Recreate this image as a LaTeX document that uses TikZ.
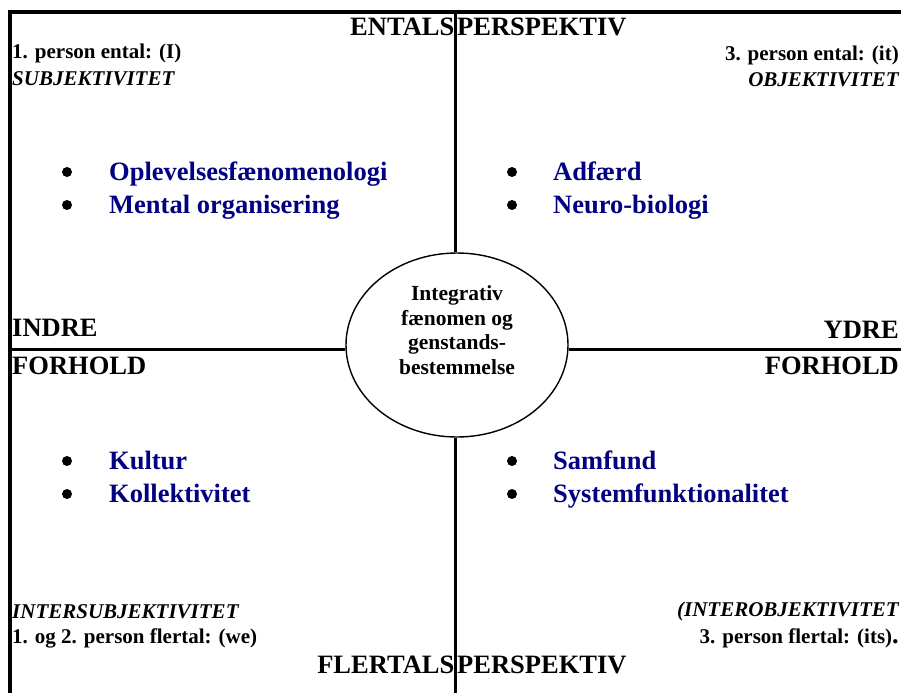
\documentclass[tikz,border=0pt]{standalone}
\usepackage{fontspec}
\setmainfont{Liberation Serif}
\usetikzlibrary{shapes.geometric}
\definecolor{navyitem}{RGB}{0,0,128}
\begin{document}
\begin{tikzpicture}[x=1pt,y=-1pt,
  small/.style={inner sep=0pt, font=\fontsize{21}{24}\selectfont\bfseries},
  smallit/.style={inner sep=0pt, font=\fontsize{21}{24}\selectfont\bfseries\itshape},
  big/.style={inner sep=0pt, font=\fontsize{26.5}{30}\selectfont\bfseries},
  item/.style={inner sep=0pt, anchor=base west, text=navyitem, font=\fontsize{26.5}{30}\selectfont\bfseries},
  dot/.style={circle, fill=black, draw=none, inner sep=0pt, minimum size=10pt},
  thickline/.style={line width=4pt},
  midline/.style={line width=3pt},
  vline/.style={line width=2.6pt},
  core/.style={ellipse, draw, line width=1.4pt, minimum width=222pt, minimum height=184pt, inner sep=0pt}]
\useasboundingbox (0,0) rectangle (901,693);

% frame
\coordinate (TL) at (8,12);
\coordinate (TR) at (901,12);
\coordinate (LT) at (10,10);
\coordinate (LB) at (10,693);
\draw[thickline] (TL) -- (TR);
\draw[thickline] (LT) -- (LB);

% central ellipse
\node[core] (ell) at (457,345) {};
\node[inner sep=0pt, anchor=north, align=center, font=\fontsize{21.5}{24.5}\selectfont\bfseries] (coretext) at (457,285.8)
  {Integrativ\\fænomen og\\genstands-\\bestemmelse};

% axes
\coordinate (VT) at (455.5,12);
\coordinate (VB) at (455.5,693);
\coordinate (HL) at (12,349.5);
\coordinate (HR) at (901,349.5);
\draw[vline] (VT) -- (VT |- ell.north);
\draw[vline] (VB |- ell.south) -- (VB);
\draw[midline] (HL) -- (HL -| ell.west);
\draw[midline] (HR -| ell.east) -- (HR);

% top / bottom titles
\node[big, anchor=base east] (ent1) at (454.5,36) {ENTALS};
\node[big, anchor=base west] (ent2) at (457,36) {PERSPEKTIV};
\node[big, anchor=base east] (fl1) at (454.5,673) {FLERTALS};
\node[big, anchor=base west] (fl2) at (457,673) {PERSPEKTIV};

% corner labels
\node[small, anchor=base west] (c1a) at (12,59) {1. person ental: (I)};
\node[smallit, anchor=base west] (c1b) at (12,85) {SUBJEKTIVITET};
\node[small, anchor=base east] (c2a) at (899,60) {3. person ental: (it)};
\node[smallit, anchor=base east] (c2b) at (899,86) {OBJEKTIVITET};
\node[smallit, anchor=base west] (c3a) at (12,618) {INTERSUBJEKTIVITET};
\node[small, anchor=base west] (c3b) at (12,643) {1. og 2. person flertal: (we)};
\node[smallit, anchor=base east] (c4a) at (899,616) {(INTEROBJEKTIVITET};
\node[small, anchor=base east] (c4b) at (899,643) {3. person flertal: (its){\fontsize{26.5}{30}\selectfont .}};

% side labels
\node[big, anchor=base west] (in1) at (12,336) {INDRE};
\node[big, anchor=base west] (in2) at (12,374) {FORHOLD};
\node[big, anchor=base east] (yd1) at (899,338) {YDRE};
\node[big, anchor=base east] (yd2) at (899,374) {FORHOLD};

% quadrant items
\node[dot] (b1) at (67,172) {};
\node[item] (t1) at (109,180) {Oplevelsesfænomenologi};
\node[dot] (b2) at (67,205) {};
\node[item] (t2) at (109,213) {Mental organisering};

\node[dot] (b3) at (512,172) {};
\node[item] (t3) at (553,180) {Adfærd};
\node[dot] (b4) at (512,205) {};
\node[item] (t4) at (553,213) {Neuro-biologi};

\node[dot] (b5) at (67,461) {};
\node[item] (t5) at (109,469) {Kultur};
\node[dot] (b6) at (67,494) {};
\node[item] (t6) at (109,502) {Kollektivitet};

\node[dot] (b7) at (512,461) {};
\node[item] (t7) at (553,469) {Samfund};
\node[dot] (b8) at (512,494) {};
\node[item] (t8) at (553,502) {Systemfunktionalitet};
\end{tikzpicture}
\end{document}
